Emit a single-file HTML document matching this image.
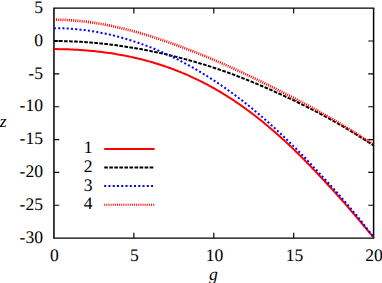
<!DOCTYPE html>
<html><head><meta charset="utf-8"><style>html,body{margin:0;padding:0;background:#fff;overflow:hidden}svg{display:block}.t{font-family:"Liberation Serif",serif;text-rendering:geometricPrecision}</style></head><body><svg width="382" height="283" viewBox="0 0 382 283">
<rect width="382" height="283" fill="#fff"/>
<path d="M53.95,41.04h5.3M373.6,41.04h-5.3M53.95,73.89h5.3M373.6,73.89h-5.3M53.95,106.73h5.3M373.6,106.73h-5.3M53.95,139.57h5.3M373.6,139.57h-5.3M53.95,172.41h5.3M373.6,172.41h-5.3M53.95,205.26h5.3M373.6,205.26h-5.3M133.86,238.1v-5.3M133.86,8.2v5.3M213.78,238.1v-5.3M213.78,8.2v5.3M293.69,238.1v-5.3M293.69,8.2v5.3" stroke="#000" stroke-width="1.15" fill="none"/>
<path d="M53.2,8.2H374.35M53.2,238.1H374.35" fill="none" stroke="#000" stroke-width="1.3"/>
<path d="M53.95,8.2V238.1M373.6,8.2V238.1" fill="none" stroke="#000" stroke-width="1.5"/>
<clipPath id="cp"><rect x="53.95" y="8.2" width="319.65000000000003" height="229.9"/></clipPath>
<g fill="none" stroke-width="2" clip-path="url(#cp)">
<path d="M53.95,49.11 L55.55,49.11 L57.15,49.12 L58.74,49.14 L60.34,49.16 L61.94,49.19 L63.54,49.22 L65.14,49.26 L66.74,49.31 L68.33,49.37 L69.93,49.43 L71.53,49.49 L73.13,49.57 L74.73,49.65 L76.33,49.73 L77.92,49.82 L79.52,49.92 L81.12,50.03 L82.72,50.14 L84.32,50.26 L85.92,50.39 L87.51,50.52 L89.11,50.66 L90.71,50.80 L92.31,50.96 L93.91,51.12 L95.50,51.29 L97.10,51.46 L98.70,51.64 L100.30,51.83 L101.90,52.02 L103.50,52.23 L105.09,52.44 L106.69,52.66 L108.29,52.88 L109.89,53.11 L111.49,53.35 L113.09,53.60 L114.68,53.86 L116.28,54.12 L117.88,54.39 L119.48,54.67 L121.08,54.96 L122.67,55.26 L124.27,55.56 L125.87,55.87 L127.47,56.19 L129.07,56.52 L130.67,56.86 L132.26,57.20 L133.86,57.56 L135.46,57.92 L137.06,58.29 L138.66,58.68 L140.26,59.07 L141.85,59.47 L143.45,59.87 L145.05,60.29 L146.65,60.72 L148.25,61.16 L149.85,61.60 L151.44,62.06 L153.04,62.52 L154.64,63.00 L156.24,63.48 L157.84,63.98 L159.43,64.49 L161.03,65.00 L162.63,65.53 L164.23,66.06 L165.83,66.61 L167.43,67.17 L169.02,67.73 L170.62,68.31 L172.22,68.90 L173.82,69.50 L175.42,70.11 L177.02,70.73 L178.61,71.36 L180.21,72.01 L181.81,72.66 L183.41,73.33 L185.01,74.01 L186.60,74.69 L188.20,75.40 L189.80,76.11 L191.40,76.83 L193.00,77.57 L194.60,78.31 L196.19,79.07 L197.79,79.84 L199.39,80.63 L200.99,81.42 L202.59,82.23 L204.19,83.05 L205.78,83.88 L207.38,84.73 L208.98,85.58 L210.58,86.45 L212.18,87.33 L213.78,88.23 L215.37,89.13 L216.97,90.05 L218.57,90.98 L220.17,91.93 L221.77,92.89 L223.36,93.86 L224.96,94.84 L226.56,95.83 L228.16,96.84 L229.76,97.86 L231.36,98.90 L232.95,99.95 L234.55,101.01 L236.15,102.08 L237.75,103.17 L239.35,104.27 L240.95,105.38 L242.54,106.51 L244.14,107.64 L245.74,108.80 L247.34,109.96 L248.94,111.14 L250.53,112.33 L252.13,113.54 L253.73,114.75 L255.33,115.99 L256.93,117.23 L258.53,118.49 L260.12,119.76 L261.72,121.04 L263.32,122.34 L264.92,123.65 L266.52,124.97 L268.12,126.30 L269.71,127.65 L271.31,129.01 L272.91,130.39 L274.51,131.77 L276.11,133.17 L277.71,134.58 L279.30,136.01 L280.90,137.45 L282.50,138.90 L284.10,140.36 L285.70,141.83 L287.29,143.32 L288.89,144.82 L290.49,146.33 L292.09,147.85 L293.69,149.39 L295.29,150.94 L296.88,152.50 L298.48,154.07 L300.08,155.65 L301.68,157.24 L303.28,158.85 L304.88,160.47 L306.47,162.09 L308.07,163.73 L309.67,165.38 L311.27,167.04 L312.87,168.72 L314.46,170.40 L316.06,172.09 L317.66,173.78 L319.26,175.47 L320.86,177.17 L322.46,178.87 L324.05,180.57 L325.65,182.28 L327.25,184.00 L328.85,185.72 L330.45,187.45 L332.05,189.19 L333.64,190.94 L335.24,192.69 L336.84,194.46 L338.44,196.23 L340.04,198.02 L341.64,199.82 L343.23,201.63 L344.83,203.45 L346.43,205.29 L348.03,207.14 L349.63,209.00 L351.22,210.88 L352.82,212.76 L354.42,214.64 L356.02,216.53 L357.62,218.43 L359.22,220.33 L360.81,222.23 L362.41,224.14 L364.01,226.05 L365.61,227.97 L367.21,229.89 L368.81,231.81 L370.40,233.73 L372.00,235.66 L373.60,237.59" stroke="#ff0000"/>
<path d="M53.95,41.04 L55.55,41.05 L57.15,41.05 L58.74,41.07 L60.34,41.09 L61.94,41.11 L63.54,41.14 L65.14,41.18 L66.74,41.22 L68.33,41.27 L69.93,41.33 L71.53,41.38 L73.13,41.45 L74.73,41.52 L76.33,41.60 L77.92,41.68 L79.52,41.77 L81.12,41.86 L82.72,41.96 L84.32,42.06 L85.92,42.17 L87.51,42.28 L89.11,42.40 L90.71,42.53 L92.31,42.66 L93.91,42.80 L95.50,42.94 L97.10,43.09 L98.70,43.24 L100.30,43.40 L101.90,43.56 L103.50,43.73 L105.09,43.91 L106.69,44.08 L108.29,44.27 L109.89,44.46 L111.49,44.65 L113.09,44.86 L114.68,45.06 L116.28,45.27 L117.88,45.49 L119.48,45.71 L121.08,45.94 L122.67,46.17 L124.27,46.40 L125.87,46.64 L127.47,46.89 L129.07,47.14 L130.67,47.40 L132.26,47.66 L133.86,47.93 L135.46,48.20 L137.06,48.48 L138.66,48.76 L140.26,49.05 L141.85,49.34 L143.45,49.64 L145.05,49.94 L146.65,50.25 L148.25,50.56 L149.85,50.88 L151.44,51.20 L153.04,51.53 L154.64,51.86 L156.24,52.19 L157.84,52.54 L159.43,52.88 L161.03,53.24 L162.63,53.59 L164.23,53.95 L165.83,54.32 L167.43,54.69 L169.02,55.07 L170.62,55.45 L172.22,55.84 L173.82,56.23 L175.42,56.63 L177.02,57.03 L178.61,57.44 L180.21,57.85 L181.81,58.27 L183.41,58.69 L185.01,59.11 L186.60,59.55 L188.20,59.98 L189.80,60.43 L191.40,60.87 L193.00,61.33 L194.60,61.78 L196.19,62.25 L197.79,62.71 L199.39,63.19 L200.99,63.67 L202.59,64.15 L204.19,64.64 L205.78,65.13 L207.38,65.63 L208.98,66.14 L210.58,66.65 L212.18,67.17 L213.78,67.69 L215.37,68.22 L216.97,68.75 L218.57,69.29 L220.17,69.84 L221.77,70.39 L223.36,70.94 L224.96,71.50 L226.56,72.07 L228.16,72.65 L229.76,73.23 L231.36,73.81 L232.95,74.40 L234.55,75.00 L236.15,75.60 L237.75,76.21 L239.35,76.82 L240.95,77.44 L242.54,78.07 L244.14,78.70 L245.74,79.34 L247.34,79.98 L248.94,80.62 L250.53,81.28 L252.13,81.93 L253.73,82.59 L255.33,83.26 L256.93,83.93 L258.53,84.60 L260.12,85.28 L261.72,85.97 L263.32,86.65 L264.92,87.35 L266.52,88.04 L268.12,88.74 L269.71,89.44 L271.31,90.15 L272.91,90.86 L274.51,91.57 L276.11,92.29 L277.71,93.01 L279.30,93.73 L280.90,94.46 L282.50,95.19 L284.10,95.93 L285.70,96.67 L287.29,97.41 L288.89,98.16 L290.49,98.91 L292.09,99.67 L293.69,100.43 L295.29,101.19 L296.88,101.96 L298.48,102.74 L300.08,103.52 L301.68,104.30 L303.28,105.09 L304.88,105.88 L306.47,106.68 L308.07,107.49 L309.67,108.30 L311.27,109.12 L312.87,109.94 L314.46,110.77 L316.06,111.60 L317.66,112.44 L319.26,113.29 L320.86,114.14 L322.46,115.00 L324.05,115.86 L325.65,116.73 L327.25,117.61 L328.85,118.49 L330.45,119.38 L332.05,120.27 L333.64,121.17 L335.24,122.07 L336.84,122.98 L338.44,123.90 L340.04,124.82 L341.64,125.75 L343.23,126.68 L344.83,127.62 L346.43,128.56 L348.03,129.51 L349.63,130.46 L351.22,131.42 L352.82,132.39 L354.42,133.36 L356.02,134.33 L357.62,135.32 L359.22,136.30 L360.81,137.29 L362.41,138.29 L364.01,139.29 L365.61,140.30 L367.21,141.31 L368.81,142.33 L370.40,143.36 L372.00,144.38 L373.60,145.42" stroke="#000" stroke-dasharray="3.65 1.4"/>
<path d="M53.95,28.16 L55.55,28.16 L57.15,28.18 L58.74,28.20 L60.34,28.24 L61.94,28.29 L63.54,28.35 L65.14,28.42 L66.74,28.50 L68.33,28.59 L69.93,28.69 L71.53,28.80 L73.13,28.92 L74.73,29.05 L76.33,29.20 L77.92,29.35 L79.52,29.52 L81.12,29.69 L82.72,29.88 L84.32,30.07 L85.92,30.28 L87.51,30.50 L89.11,30.73 L90.71,30.96 L92.31,31.21 L93.91,31.47 L95.50,31.74 L97.10,32.02 L98.70,32.31 L100.30,32.62 L101.90,32.93 L103.50,33.25 L105.09,33.58 L106.69,33.93 L108.29,34.28 L109.89,34.64 L111.49,35.02 L113.09,35.40 L114.68,35.80 L116.28,36.20 L117.88,36.62 L119.48,37.04 L121.08,37.48 L122.67,37.92 L124.27,38.38 L125.87,38.85 L127.47,39.33 L129.07,39.81 L130.67,40.31 L132.26,40.82 L133.86,41.34 L135.46,41.87 L137.06,42.40 L138.66,42.95 L140.26,43.51 L141.85,44.08 L143.45,44.66 L145.05,45.25 L146.65,45.85 L148.25,46.46 L149.85,47.08 L151.44,47.71 L153.04,48.35 L154.64,49.00 L156.24,49.66 L157.84,50.33 L159.43,51.02 L161.03,51.71 L162.63,52.41 L164.23,53.12 L165.83,53.85 L167.43,54.58 L169.02,55.32 L170.62,56.07 L172.22,56.84 L173.82,57.61 L175.42,58.40 L177.02,59.19 L178.61,60.00 L180.21,60.81 L181.81,61.64 L183.41,62.47 L185.01,63.32 L186.60,64.18 L188.20,65.04 L189.80,65.92 L191.40,66.81 L193.00,67.71 L194.60,68.62 L196.19,69.54 L197.79,70.47 L199.39,71.41 L200.99,72.36 L202.59,73.32 L204.19,74.30 L205.78,75.28 L207.38,76.27 L208.98,77.28 L210.58,78.29 L212.18,79.32 L213.78,80.36 L215.37,81.41 L216.97,82.47 L218.57,83.54 L220.17,84.62 L221.77,85.71 L223.36,86.81 L224.96,87.93 L226.56,89.05 L228.16,90.19 L229.76,91.33 L231.36,92.49 L232.95,93.66 L234.55,94.84 L236.15,96.03 L237.75,97.23 L239.35,98.45 L240.95,99.67 L242.54,100.91 L244.14,102.15 L245.74,103.41 L247.34,104.68 L248.94,105.96 L250.53,107.25 L252.13,108.56 L253.73,109.87 L255.33,111.20 L256.93,112.53 L258.53,113.88 L260.12,115.24 L261.72,116.61 L263.32,117.99 L264.92,119.39 L266.52,120.79 L268.12,122.20 L269.71,123.63 L271.31,125.07 L272.91,126.52 L274.51,127.98 L276.11,129.45 L277.71,130.93 L279.30,132.42 L280.90,133.92 L282.50,135.44 L284.10,136.96 L285.70,138.50 L287.29,140.05 L288.89,141.61 L290.49,143.17 L292.09,144.75 L293.69,146.34 L295.29,147.94 L296.88,149.55 L298.48,151.17 L300.08,152.81 L301.68,154.45 L303.28,156.10 L304.88,157.76 L306.47,159.43 L308.07,161.11 L309.67,162.80 L311.27,164.50 L312.87,166.21 L314.46,167.93 L316.06,169.66 L317.66,171.38 L319.26,173.11 L320.86,174.84 L322.46,176.57 L324.05,178.31 L325.65,180.05 L327.25,181.80 L328.85,183.55 L330.45,185.30 L332.05,187.07 L333.64,188.84 L335.24,190.62 L336.84,192.41 L338.44,194.21 L340.04,196.02 L341.64,197.84 L343.23,199.67 L344.83,201.51 L346.43,203.37 L348.03,205.24 L349.63,207.12 L351.22,209.01 L352.82,210.91 L354.42,212.81 L356.02,214.74 L357.62,216.70 L359.22,218.69 L360.81,220.70 L362.41,222.73 L364.01,224.77 L365.61,226.81 L367.21,228.85 L368.81,230.88 L370.40,232.89 L372.00,234.88 L373.60,236.83" stroke="#0000ff" stroke-dasharray="2 2.26"/>
<path d="M53.95,19.70 L55.55,19.70 L57.15,19.72 L58.74,19.74 L60.34,19.78 L61.94,19.82 L63.54,19.88 L65.14,19.94 L66.74,20.01 L68.33,20.10 L69.93,20.19 L71.53,20.30 L73.13,20.41 L74.73,20.54 L76.33,20.67 L77.92,20.81 L79.52,20.97 L81.12,21.13 L82.72,21.30 L84.32,21.48 L85.92,21.67 L87.51,21.87 L89.11,22.08 L90.71,22.30 L92.31,22.53 L93.91,22.77 L95.50,23.01 L97.10,23.27 L98.70,23.53 L100.30,23.80 L101.90,24.08 L103.50,24.37 L105.09,24.67 L106.69,24.98 L108.29,25.29 L109.89,25.61 L111.49,25.94 L113.09,26.28 L114.68,26.63 L116.28,26.98 L117.88,27.35 L119.48,27.72 L121.08,28.09 L122.67,28.48 L124.27,28.87 L125.87,29.27 L127.47,29.68 L129.07,30.09 L130.67,30.51 L132.26,30.94 L133.86,31.37 L135.46,31.81 L137.06,32.26 L138.66,32.71 L140.26,33.17 L141.85,33.64 L143.45,34.11 L145.05,34.59 L146.65,35.07 L148.25,35.56 L149.85,36.06 L151.44,36.56 L153.04,37.07 L154.64,37.58 L156.24,38.10 L157.84,38.63 L159.43,39.16 L161.03,39.69 L162.63,40.23 L164.23,40.77 L165.83,41.32 L167.43,41.88 L169.02,42.44 L170.62,43.00 L172.22,43.57 L173.82,44.15 L175.42,44.72 L177.02,45.31 L178.61,45.89 L180.21,46.49 L181.81,47.08 L183.41,47.68 L185.01,48.29 L186.60,48.90 L188.20,49.51 L189.80,50.13 L191.40,50.75 L193.00,51.37 L194.60,52.00 L196.19,52.63 L197.79,53.27 L199.39,53.91 L200.99,54.56 L202.59,55.21 L204.19,55.86 L205.78,56.52 L207.38,57.18 L208.98,57.84 L210.58,58.51 L212.18,59.18 L213.78,59.86 L215.37,60.54 L216.97,61.22 L218.57,61.91 L220.17,62.61 L221.77,63.30 L223.36,64.00 L224.96,64.71 L226.56,65.41 L228.16,66.13 L229.76,66.84 L231.36,67.56 L232.95,68.29 L234.55,69.02 L236.15,69.75 L237.75,70.48 L239.35,71.22 L240.95,71.97 L242.54,72.71 L244.14,73.46 L245.74,74.22 L247.34,74.97 L248.94,75.73 L250.53,76.50 L252.13,77.26 L253.73,78.03 L255.33,78.80 L256.93,79.58 L258.53,80.35 L260.12,81.13 L261.72,81.92 L263.32,82.70 L264.92,83.48 L266.52,84.27 L268.12,85.06 L269.71,85.85 L271.31,86.65 L272.91,87.44 L274.51,88.24 L276.11,89.04 L277.71,89.84 L279.30,90.64 L280.90,91.45 L282.50,92.25 L284.10,93.06 L285.70,93.87 L287.29,94.68 L288.89,95.50 L290.49,96.32 L292.09,97.14 L293.69,97.96 L295.29,98.79 L296.88,99.62 L298.48,100.45 L300.08,101.29 L301.68,102.13 L303.28,102.97 L304.88,103.82 L306.47,104.67 L308.07,105.53 L309.67,106.39 L311.27,107.25 L312.87,108.12 L314.46,109.00 L316.06,109.88 L317.66,110.76 L319.26,111.65 L320.86,112.54 L322.46,113.43 L324.05,114.34 L325.65,115.24 L327.25,116.15 L328.85,117.07 L330.45,117.99 L332.05,118.92 L333.64,119.85 L335.24,120.78 L336.84,121.72 L338.44,122.67 L340.04,123.62 L341.64,124.57 L343.23,125.53 L344.83,126.49 L346.43,127.46 L348.03,128.43 L349.63,129.41 L351.22,130.39 L352.82,131.38 L354.42,132.37 L356.02,133.37 L357.62,134.37 L359.22,135.38 L360.81,136.39 L362.41,137.40 L364.01,138.42 L365.61,139.44 L367.21,140.47 L368.81,141.51 L370.40,142.54 L372.00,143.59 L373.60,144.63" stroke="#ff0000" stroke-width="2.7" stroke-dasharray="1 1.13"/>
</g><g fill="none" stroke-width="2">
<path d="M104.2,148.95H154.6" stroke="#ff0000"/>
<path d="M104.2,167.55H154.6" stroke="#000" stroke-dasharray="3.65 1.4"/>
<path d="M104.2,186.0H154.6" stroke="#0000ff" stroke-dasharray="2 2.26"/>
<path d="M104.2,204.7H154.6" stroke="#ff0000" stroke-dasharray="1 1.13"/>
</g>
<g class="t" font-size="17.6" fill="#000">
<g text-anchor="end">
<text x="43" y="12.8">5</text>
<text x="43" y="45.6">0</text>
<text x="43" y="78.5">-5</text>
<text x="43" y="111.3">-10</text>
<text x="43" y="144.2">-15</text>
<text x="43" y="177">-20</text>
<text x="43" y="209.9">-25</text>
<text x="43" y="242.7">-30</text>
<text x="92.6" y="153.3">1</text>
<text x="92.6" y="171.9">2</text>
<text x="92.6" y="190.6">3</text>
<text x="92.6" y="209.3">4</text>
</g>
<g text-anchor="middle">
<text x="54.3" y="260.9">0</text>
<text x="134.3" y="260.9">5</text>
<text x="214.6" y="260.9">10</text>
<text x="294.5" y="260.9">15</text>
<text x="374" y="260.9">20</text>
<text x="213.4" y="280" font-style="italic">g</text>
<text x="3.1" y="126.9" font-style="italic">z</text>
</g>
</g>
</svg></body></html>
